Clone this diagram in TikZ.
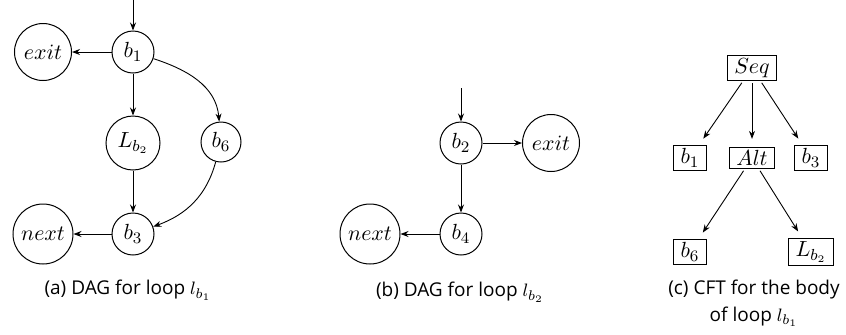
\documentclass[tikz,border=0pt]{standalone}
\usepackage{fontspec}
\newfontfamily\capfont{Open Sans}
\usetikzlibrary{arrows.meta}
\begin{document}
\begin{tikzpicture}[x=0.5pt,y=-0.5pt,
  every node/.style={font=\fontsize{11}{13}\selectfont},
  bnode/.style={draw, circle, inner sep=0pt, minimum size=21pt, line width=0.5pt},
  cnode/.style={draw, rectangle, inner xsep=3.5pt, inner ysep=1.5pt, minimum height=10pt, line width=0.5pt},
  capnode/.style={font=\capfont\fontsize{9.5}{13.5}\selectfont, align=center},
  arr/.style={-{Stealth[length=4pt,width=3pt]}, line width=0.45pt},
  tarr/.style={arr, shorten >=4pt, shorten <=1pt}]
\useasboundingbox (0,0) rectangle (846,334);
% (a)
\coordinate (ina) at (133,0);
\node[bnode] (a1) at (133,52) {$b_1$};
\node[bnode, minimum size=28.5pt] (aexit) at (43,52) {$exit$};
\node[bnode, minimum size=27pt] (aL) at (133,143) {$L_{b_2}$};
\node[bnode, minimum size=20pt] (a6) at (221,142) {$b_6$};
\node[bnode] (a3) at (133,234) {$b_3$};
\node[bnode, minimum size=30pt] (anext) at (43,234) {$next$};
\draw[arr] (ina) -- (a1);
\draw[arr] (a1) -- (aexit);
\draw[arr] (a1) -- (aL);
\draw[arr] (aL) -- (a3);
\draw[arr] (a1) to[out=-18,in=95] (a6);
\draw[arr] (a6) to[out=-105,in=20] (a3);
\draw[arr] (a3) -- (anext);
\node[capnode] (capa) at (128,290) {(a) DAG for loop $l_{b_1}$};
% (b)
\coordinate (inb) at (461,88);
\node[bnode] (b2) at (461,143) {$b_2$};
\node[bnode, minimum size=28.5pt] (bexit) at (551,143) {$exit$};
\node[bnode] (b4) at (461,234) {$b_4$};
\node[bnode, minimum size=30pt] (bnext) at (370,234) {$next$};
\draw[arr] (inb) -- (b2);
\draw[arr] (b2) -- (bexit);
\draw[arr] (b2) -- (b4);
\draw[arr] (b4) -- (bnext);
\node[capnode] (capb) at (460,292) {(b) DAG for loop $l_{b_2}$};
% (c)
\node[cnode] (seq) at (752,68) {$Seq$};
\node[cnode] (c1) at (690,158) {$b_1$};
\node[cnode] (alt) at (752,158) {$Alt$};
\node[cnode] (c3) at (811,158) {$b_3$};
\node[cnode] (c6) at (690,252) {$b_6$};
\node[cnode] (cL) at (811,252) {$L_{b_2}$};
\draw[tarr] (seq) -- (c1);
\draw[tarr] (seq) -- (alt);
\draw[tarr] (seq) -- (c3);
\draw[tarr] (alt) -- (c6);
\draw[tarr] (alt) -- (cL);
\node[capnode] (capc) at (754,303) {(c) CFT for the body\\of loop $l_{b_1}$};
\end{tikzpicture}
\end{document}
